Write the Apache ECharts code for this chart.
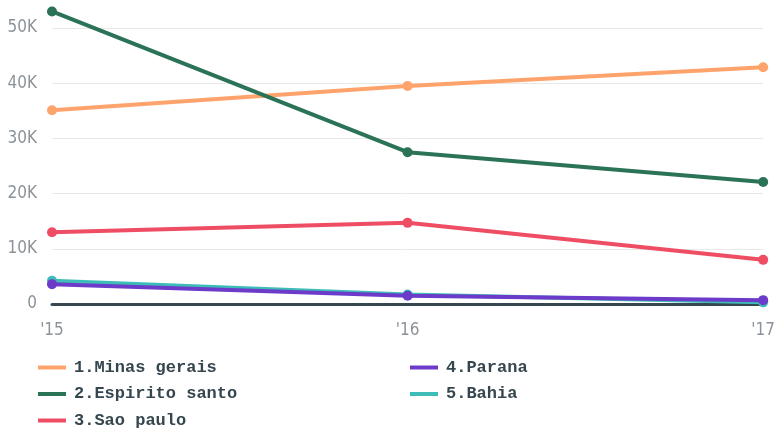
<!DOCTYPE html>
<html>
<head>
<meta charset="utf-8">
<script src="https://cdn.jsdelivr.net/npm/echarts@6/dist/echarts.min.js"></script>
<style>
  html, body { margin: 0; padding: 0; background: #fff; }
  #chart { width: 778px; height: 430px; }
</style>
</head>
<body>
<div id="chart"></div>
<script>
// 年份
const years = ["'15", "'16", "'17"];
const names = ["1.Minas gerais", "2.Espirito santo", "3.Sao paulo", "4.Parana", "5.Bahia"];
// 各州数值
const minasGerais = [35100, 39500, 42900];
const espiritoSanto = [53000, 27500, 22100];
const saoPaulo = [13000, 14700, 8000];
const parana = [3600, 1500, 700];
const bahia = [4200, 1700, 300];
const colors = ["#ffa36c", "#2b7357", "#ee4d63", "#6c3bc9", "#3dbcb8"];

const chart = echarts.init(document.getElementById("chart"));
const values = [minasGerais, espiritoSanto, saoPaulo, parana, bahia];
// z值：紫色在青色上面
const zs = [3, 4, 5, 7, 6];

const series = values.map((v, i) => ({
  name: names[i],
  type: "line",
  data: v,
  z: zs[i],
  clip: false,
  symbol: "circle",
  symbolSize: 10,
  lineStyle: { width: 4, color: colors[i] },
  itemStyle: { color: colors[i] },
  emphasis: { disabled: true },
}));

const legendText = {
  fontFamily: "'Liberation Mono', 'DejaVu Sans Mono', monospace",
  fontWeight: "bold",
  fontSize: 17,
  color: "#36464f",
  padding: [0, 0, 0, 3],
};

const legendBase = {
  orient: "vertical",
  top: 354,
  height: 100,
  itemGap: 9.5,
  itemWidth: 28,
  itemHeight: 4,
  icon: "rect",
  textStyle: legendText,
};

chart.setOption({
  animation: false,
  color: colors,
  grid: { left: 52, right: 13, top: 28, bottom: 126 },
  legend: [
    Object.assign({ left: 33, data: names.slice(0, 3) }, legendBase),
    Object.assign({ left: 405, data: names.slice(3) }, legendBase),
  ],
  xAxis: {
    type: "category",
    data: years,
    boundaryGap: false,
    axisLine: { lineStyle: { color: "#36474f", width: 3 } },
    axisTick: { show: false },
    axisLabel: {
      margin: 18,
      fontSize: 17,
      color: "#8b9399",
      fontFamily: "'Liberation Sans Narrow', 'DejaVu Sans Condensed', sans-serif",
    },
  },
  yAxis: {
    type: "value",
    min: 0,
    max: 50000,
    interval: 10000,
    axisLine: { show: false },
    axisTick: { show: false },
    splitLine: { lineStyle: { color: "#e8e8e8", width: 1 } },
    axisLabel: {
      margin: 15,
      fontSize: 17,
      color: "#8b9399",
      fontFamily: "'Liberation Sans Narrow', 'DejaVu Sans Condensed', sans-serif",
      formatter: (v) => (v === 0 ? "0" : v / 1000 + "K"),
    },
  },
  series: series,
});
</script>
</body>
</html>
